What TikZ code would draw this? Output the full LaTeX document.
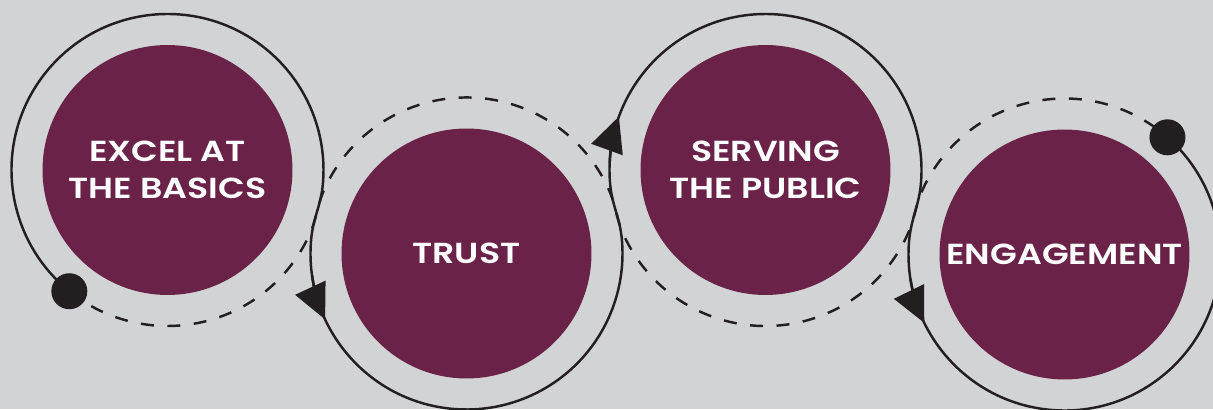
\documentclass[tikz,border=0pt]{standalone}
\usepackage{fontspec}
\setmainfont{Poppins}[BoldFont={Poppins SemiBold},FakeStretch=1.2]
\usetikzlibrary{calc,arrows.meta}
\definecolor{BgClr}{HTML}{D1D3D4}
\definecolor{DiscClr}{HTML}{6A2248}
\definecolor{LineClr}{HTML}{231F20}

\begin{document}
\begin{tikzpicture}[x=0.02cm,y=0.02cm,
  disc/.style={circle,fill=DiscClr,minimum size=5cm,inner sep=0pt,text=white,
    align=center,font=\bfseries\fontsize{16.5}{21}\selectfont},
  dot/.style={circle,fill=LineClr,minimum size=0.72cm,inner sep=0pt},
  solidline/.style={line width=1.4pt,color=LineClr},
  dashline/.style={line width=1.4pt,color=LineClr,dash pattern=on 0.26cm off 0.27cm},
  tip/.style={solidline,-{Triangle[length=0.7cm,width=0.66cm]}}]
\fill[BgClr] (0,0) rectangle (1213,409);
\useasboundingbox (0,0) rectangle (1213,409);
\def\R{156}

\node[disc] (basics) at (167.5,239) {EXCEL AT\\THE BASICS};
\node[disc] (trust) at (466.5,155.5) {TRUST};
\node[disc] (public) at (765.5,239) {SERVING\\THE PUBLIC};
\node[disc] (engage) at (1064.5,154.5) {ENGAGEMENT};

\coordinate (start) at ($(basics)+(231:\R)$);
\coordinate (finish) at ($(engage)+(48.7:\R)$);

% solid loop
\draw[solidline] (start) arc[start angle=231,end angle=-5,radius=\R]
  to[out=-95,in=85] ($(trust)+(175:\R)$) arc[start angle=175,end angle=365,radius=\R]
  to[out=95,in=-85] ($(public)+(185:\R)$) arc[start angle=185,end angle=-5,radius=\R]
  to[out=-95,in=85] ($(engage)+(175:\R)$) arc[start angle=175,end angle=408.7,radius=\R];

% dashed loop
\draw[dashline] (start) arc[start angle=231,end angle=335,radius=\R]
  to[out=65,in=-115] ($(trust)+(155:\R)$) arc[start angle=155,end angle=25,radius=\R]
  to[out=-65,in=115] ($(public)+(205:\R)$) arc[start angle=205,end angle=335,radius=\R]
  to[out=65,in=-115] ($(engage)+(155:\R)$) arc[start angle=155,end angle=48.7,radius=\R];

% arrow heads
\draw[tip] ($(trust)+(188:\R)$) arc[start angle=188,end angle=205,radius=\R];
\draw[tip] ($(public)+(177:\R)$) arc[start angle=177,end angle=160,radius=\R];
\draw[tip] ($(engage)+(189:\R)$) arc[start angle=189,end angle=206,radius=\R];

\node[dot] at (start) {};
\node[dot] at (finish) {};
\end{tikzpicture}
\end{document}
